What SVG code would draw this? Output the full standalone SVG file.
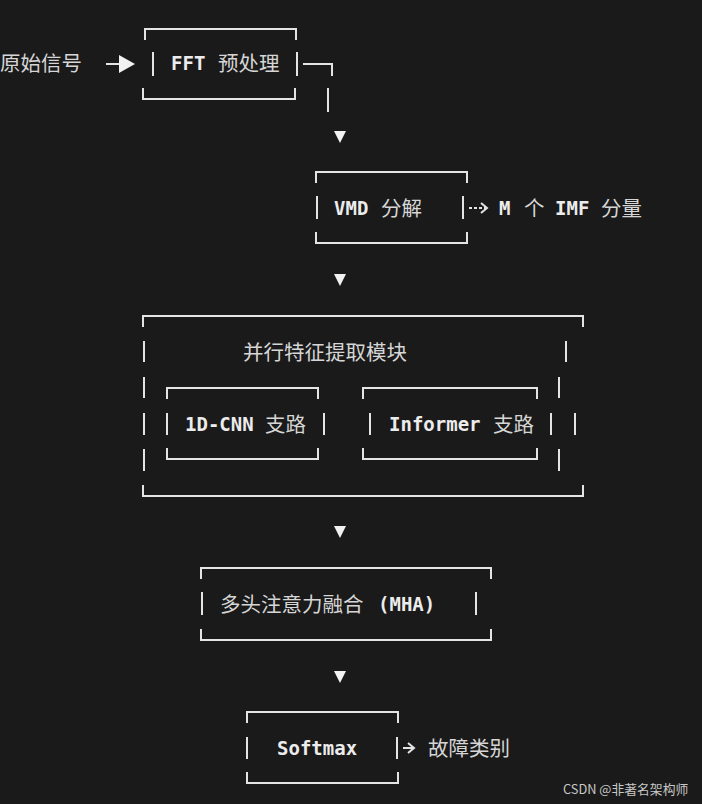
<svg xmlns="http://www.w3.org/2000/svg" width="702" height="804" viewBox="0 0 702 804">
<style>
.ln{fill:none;stroke:#e4e4e4;stroke-width:2}
.tri{fill:#f2f2f2}
.lat{font-family:"DejaVu Sans Mono","Liberation Mono",monospace;font-size:19px;font-weight:bold;fill:#ececec}
.cjk{font-family:"Noto Sans CJK SC","Noto Sans",sans-serif;font-size:20.5px;fill:#d6d6d6}
.wm{font-family:"Noto Sans CJK SC","Liberation Sans",sans-serif;font-size:12.8px;fill:#c8c8c8}
</style>
<rect width="702" height="804" fill="#1a1a1a"/>

<g id="input">
<text class="cjk" x="0" y="71">原始信号</text>
</g>

<g id="fft">
<path class="ln" d="M145,40 V29 H296 V40 M143,88 V99 H295 V88 M153,52 V76 M297,52 V76"/>
<text class="lat" x="171" y="70">FFT</text>
<text class="cjk" x="218" y="71">预处理</text>
</g>

<g id="vmd">
<path class="ln" d="M316,183 V172 H467 V183 M316,232 V243 H467 V232 M317,196 V219 M463,196 V219"/>
<text class="lat" x="334" y="215">VMD</text>
<text class="cjk" x="381" y="216">分解</text>
</g>

<g id="imf">
<text class="lat" x="499" y="215">M</text>
<text class="cjk" x="524" y="216">个</text>
<text class="lat" x="555" y="215">IMF</text>
<text class="cjk" x="601" y="216">分量</text>
</g>

<g id="parallel">
<path class="ln" d="M143,327 V316 H583 V327 M143,485 V496 H583 V485 M144,341 V362 M144,377 V398 M144,413 V435 M144,449 V471 M566,341 V362 M559,377 V398 M575,413 V435 M559,449 V471"/>
<text class="cjk" x="243" y="360">并行特征提取模块</text>
</g>

<g id="cnn">
<path class="ln" d="M167,399 V388 H318 V399 M167,448 V459 H318 V448 M167,413 V435 M324,413 V435"/>
<text class="lat" x="185" y="431">1D-CNN</text>
<text class="cjk" x="265" y="432">支路</text>
</g>

<g id="informer">
<path class="ln" d="M363,399 V388 H537 V399 M363,448 V459 H537 V448 M370,413 V435 M551,413 V435"/>
<text class="lat" x="389" y="431">Informer</text>
<text class="cjk" x="493" y="432">支路</text>
</g>

<g id="mha">
<path class="ln" d="M201,579 V568 H491 V579 M201,629 V640 H491 V629 M202,592 V615 M476,592 V615"/>
<text class="cjk" x="220" y="612">多头注意力融合</text>
<text class="lat" x="378" y="611">(MHA)</text>
</g>

<g id="softmax">
<path class="ln" d="M247,723 V712 H398 V723 M247,772 V783 H398 V772 M247,737 V759 M397,737 V759"/>
<text class="lat" x="277" y="755">Softmax</text>
</g>

<g id="output">
<text class="cjk" x="428" y="756">故障类别</text>
</g>

<g id="connectors">
<path class="ln" d="M106,64 H120"/>
<polygon class="tri" points="119,55 135,64 119,73"/>
<path class="ln" d="M303,64 H332 V76 M328,88 V112"/>
<polygon class="tri" points="334,131 346,131 340,143"/>
<path class="ln" d="M469,208 H486" stroke-dasharray="3,2"/>
<path class="ln" d="M481,203 L487,208 L481,213" stroke-width="1.6"/>
<polygon class="tri" points="334,274 346,274 340,286"/>
<polygon class="tri" points="334,526 346,526 340,538"/>
<polygon class="tri" points="334,671 346,671 340,683"/>
<path class="ln" d="M403,748 H413" stroke-width="2.5"/>
<path class="ln" d="M408,743 L414,748 L408,753" stroke-width="2.5"/>
</g>

<text class="wm" x="563" y="794">CSDN @非著名架构师</text>
</svg>
